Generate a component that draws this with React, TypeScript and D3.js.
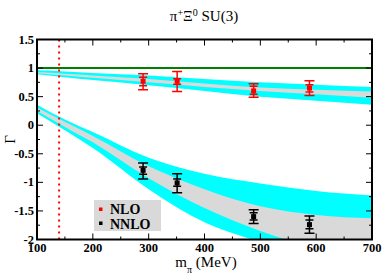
import React from 'react';
import * as d3 from 'd3';

const bandM = [100, 150, 200, 300, 400, 500, 600, 700];

// NLO band: outer (cyan) and inner (grey) edges
const nloOuterHi = [0.96, 0.94, 0.915, 0.87, 0.81, 0.75, 0.71, 0.67];
const nloInnerHi = [0.93, 0.90, 0.87, 0.81, 0.73, 0.66, 0.62, 0.59];
const nloInnerLo = [0.91, 0.87, 0.83, 0.75, 0.67, 0.60, 0.54, 0.48];
const nloOuterLo = [0.89, 0.84, 0.79, 0.70, 0.60, 0.50, 0.43, 0.36];

// NNLO band
const nnloOuterHi = [0.36, 0.10, -0.12, -0.57, -0.85, -1.02, -1.15, -1.23];
const nnloInnerHi = [0.31, 0.06, -0.19, -0.72, -1.12, -1.42, -1.57, -1.63];
const nnloInnerLo = [0.25, -0.03, -0.30, -0.93, -1.45, -1.85, -2.15, -2.35];
const nnloOuterLo = [0.21, -0.09, -0.40, -1.12, -1.70, -2.05, -2.40, -2.70];

// lattice points
const pointM = [290, 351, 488, 588];
const nloVal = [0.77, 0.77, 0.60, 0.65];
const nloStatLo = [0.69, 0.715, 0.54, 0.58];
const nloStatHi = [0.84, 0.815, 0.68, 0.71];
const nloTotLo = [0.62, 0.59, 0.49, 0.52];
const nloTotHi = [0.90, 0.94, 0.727, 0.78];

const nnloVal = [-0.79, -1.01, -1.60, -1.74];
const nnloStatLo = [-0.86, -1.07, -1.66, -1.81];
const nnloStatHi = [-0.73, -0.94, -1.53, -1.66];
const nnloTotLo = [-0.94, -1.18, -1.72, -1.89];
const nnloTotHi = [-0.66, -0.85, -1.48, -1.59];

const physicalPion = 139.57;
const xTicks = [100, 200, 300, 400, 500, 600, 700];
const yTicks = [1.5, 1, 0.5, 0, -0.5, -1, -1.5, -2];

const W = 382;
const H = 274;
const left = 37, right = 372, top = 39.5, bottom = 239.5;

const x = d3.scaleLinear().domain([100, 700]).range([left, right]);
const y = d3.scaleLinear().domain([-2, 1.5]).range([bottom, top]);

const band = (lo: number[], hi: number[]) =>
  d3.area<number>()
    .x((_, i) => x(bandM[i]))
    .y0((_, i) => y(lo[i]))
    .y1((_, i) => y(hi[i]))
    .curve(d3.curveMonotoneX)(bandM) as string;

const tickFont = { fontFamily: 'Liberation Serif, serif', fontWeight: 'bold', fontSize: 12.5 };

function ErrorPoints({ vals, sLo, sHi, tLo, tHi, color }: any) {
  return (
    <g stroke={color} fill={color}>
      {pointM.map((m, i) => {
        const cx = x(m);
        return (
          <g key={m}>
            <line x1={cx} x2={cx} y1={y(tLo[i])} y2={y(tHi[i])} strokeWidth={1.5} />
            <line x1={cx - 5} x2={cx + 5} y1={y(tLo[i])} y2={y(tLo[i])} strokeWidth={1.5} />
            <line x1={cx - 5} x2={cx + 5} y1={y(tHi[i])} y2={y(tHi[i])} strokeWidth={1.5} />
            <line x1={cx - 4} x2={cx + 4} y1={y(sLo[i])} y2={y(sLo[i])} strokeWidth={1.5} />
            <line x1={cx - 4} x2={cx + 4} y1={y(sHi[i])} y2={y(sHi[i])} strokeWidth={1.5} />
            <rect x={cx - 2.5} y={y(vals[i]) - 2.5} width={5} height={5} stroke="none" />
          </g>
        );
      })}
    </g>
  );
}

export default function App() {
  const xMinor = d3.range(100, 701, 50);
  const yMinor = d3.range(-2, 1.51, 0.25);
  return (
    <svg width={W} height={H} style={{ position: 'absolute', left: 0, top: 0, background: '#fff' }}>
      <defs>
        <clipPath id="plot">
          <rect x={left} y={top} width={right - left} height={bottom - top} />
        </clipPath>
      </defs>

      <text x={204} y={21} textAnchor="middle" fontFamily="Liberation Serif, serif" fontSize={15}>
        π<tspan baselineShift="super" fontSize={10}>+</tspan>Ξ<tspan baselineShift="super" fontSize={10}>0</tspan> SU(3)
      </text>

      <g clipPath="url(#plot)">
        <path d={band(nloOuterLo, nloOuterHi)} fill="#00ffff" />
        <path d={band(nloInnerLo, nloInnerHi)} fill="#d9d9d9" />
        <path d={band(nnloOuterLo, nnloOuterHi)} fill="#00ffff" />
        <path d={band(nnloInnerLo, nnloInnerHi)} fill="#d9d9d9" />
        <line x1={left} x2={right} y1={y(1)} y2={y(1)} stroke="#008000" strokeWidth={2} />
        <line x1={x(physicalPion)} x2={x(physicalPion)} y1={top} y2={bottom}
          stroke="#ff0000" strokeWidth={2} strokeDasharray="2,4" />
        <ErrorPoints vals={nloVal} sLo={nloStatLo} sHi={nloStatHi} tLo={nloTotLo} tHi={nloTotHi} color="#ff0000" />
        <ErrorPoints vals={nnloVal} sLo={nnloStatLo} sHi={nnloStatHi} tLo={nnloTotLo} tHi={nnloTotHi} color="#000000" />
      </g>

      {/* legend */}
      <rect x={94} y={200} width={67} height={31} fill="#d9d9d9" />
      <rect x={99} y={207.5} width={3.5} height={3.5} fill="#ff0000" />
      <rect x={99} y={221.5} width={3.5} height={3.5} fill="#000000" />
      <text x={110} y={213.5} fontFamily="Liberation Serif, serif" fontWeight="bold" fontSize={14}>NLO</text>
      <text x={110} y={229} fontFamily="Liberation Serif, serif" fontWeight="bold" fontSize={14}>NNLO</text>

      {/* ticks, all four sides, pointing inward */}
      <g stroke="#000" strokeWidth={1}>
        {xMinor.map(v => {
          const len = v % 100 === 0 ? 6 : 3;
          return (
            <g key={'x' + v}>
              <line x1={x(v)} x2={x(v)} y1={bottom} y2={bottom - len} />
              <line x1={x(v)} x2={x(v)} y1={top} y2={top + len} />
            </g>
          );
        })}
        {yMinor.map(v => {
          const len = Math.abs(v * 2 - Math.round(v * 2)) < 1e-6 ? 6 : 3;
          return (
            <g key={'y' + v}>
              <line x1={left} x2={left + len} y1={y(v)} y2={y(v)} />
              <line x1={right} x2={right - len} y1={y(v)} y2={y(v)} />
            </g>
          );
        })}
      </g>
      <rect x={left} y={top} width={right - left} height={bottom - top} fill="none" stroke="#000" strokeWidth={2} />

      {xTicks.map(v => (
        <text key={v} x={x(v)} y={251.5} textAnchor="middle" {...tickFont}>{v}</text>
      ))}
      {yTicks.map(v => (
        <text key={v} x={34} y={y(v)} dy="0.33em" textAnchor="end" {...tickFont}>{v}</text>
      ))}

      <text x={206} y={267} textAnchor="middle" fontFamily="Liberation Serif, serif" fontSize={15}>
        m<tspan baselineShift="sub" fontSize={10}>π</tspan> (MeV)
      </text>
      <text transform={`translate(15,${(top + bottom) / 2}) rotate(-90)`} textAnchor="middle"
        fontFamily="Liberation Serif, serif" fontSize={15}>Γ</text>
    </svg>
  );
}
